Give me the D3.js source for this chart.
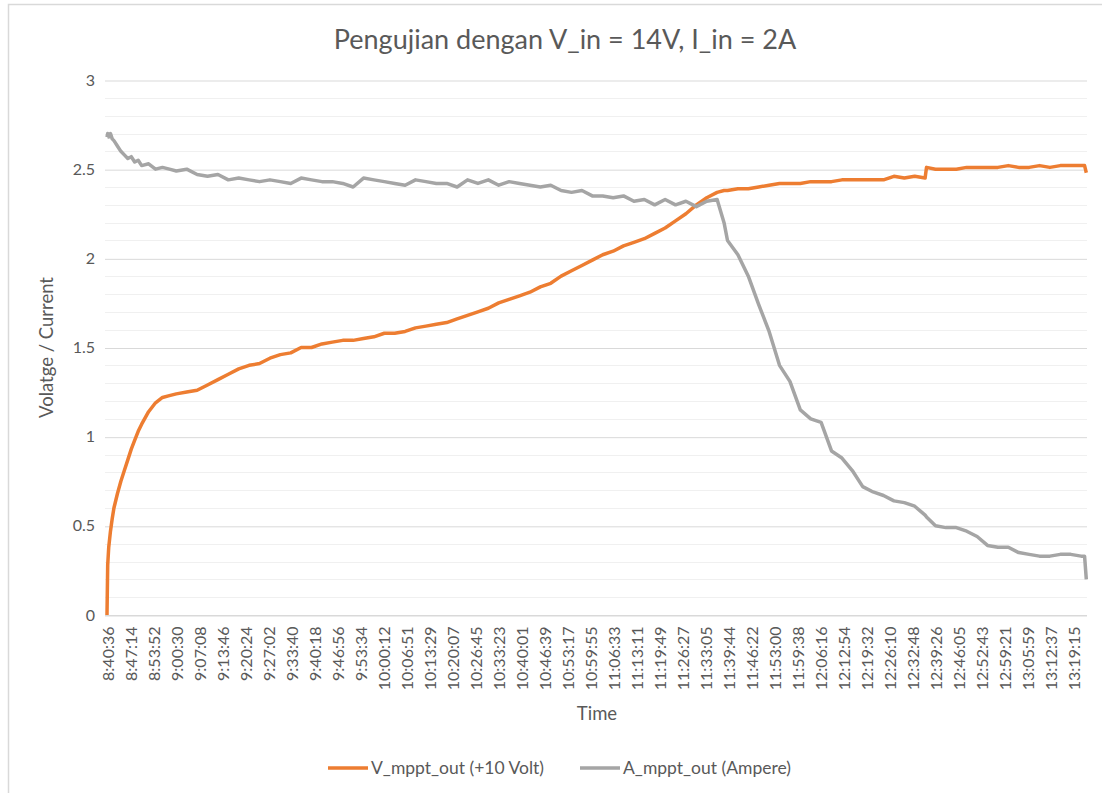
<!DOCTYPE html>
<html>
<head>
<meta charset="utf-8">
<script src="https://cdn.jsdelivr.net/npm/d3@7"></script>
<style>
  body { margin: 0; background: #fff; }
  svg { font-family: Lato, "Open Sans", sans-serif; }
</style>
</head>
<body>
<svg id="chart"></svg>
<script>
var W = 1102, H = 793;
var margin = {top: 80, right: 15, bottom: 178, left: 107};

// x labels on the category axis
var timeLabels = ["8:40:36","8:47:14","8:53:52","9:00:30","9:07:08","9:13:46","9:20:24","9:27:02",
  "9:33:40","9:40:18","9:46:56","9:53:34","10:00:12","10:06:51","10:13:29","10:20:07","10:26:45",
  "10:33:23","10:40:01","10:46:39","10:53:17","10:59:55","11:06:33","11:13:11","11:19:49","11:26:27",
  "11:33:05","11:39:44","11:46:22","11:53:00","11:59:38","12:06:16","12:12:54","12:19:32","12:26:10",
  "12:32:48","12:39:26","12:46:05","12:52:43","12:59:21","13:05:59","13:12:37","13:19:15"];

var yTicks = [0, 0.5, 1, 1.5, 2, 2.5, 3];

// minutes after 8:40:36
var minutes = [0,0.2,0.5,1,1.5,2,3,4,5,6,7,8,9,10,12,14,16,18,20,
  23,26,29,32,35,38,41,44,47,50,53,56,59,62,65,68,71,74,77,80,83,86,89,92,95,98,
  101,104,107,110,113,116,119,122,125,128,131,134,137,140,143,146,149,152,155,158,
  161,164,167,170,173,176,178,179,182,185,188,191,194,197,200,203,206,209,212,215,218,
  221,224,227,230,233,236,236.4,239,242,245,248,251,254,257,260,263,266,269,272,275,278,
  281,282,282.5];

// V_mppt_out (+10 Volt)
var vOut = [0,0.28,0.38,0.47,0.54,0.60,0.68,0.75,0.81,0.87,0.93,0.98,1.03,1.07,1.14,1.19,1.22,1.23,1.24,
  1.25,1.26,1.29,1.32,1.35,1.38,1.40,1.41,1.44,1.46,1.47,1.50,1.50,1.52,1.53,1.54,1.54,1.55,1.56,1.58,1.58,1.59,1.61,1.62,1.63,1.64,
  1.66,1.68,1.70,1.72,1.75,1.77,1.79,1.81,1.84,1.86,1.90,1.93,1.96,1.99,2.02,2.04,2.07,2.09,2.11,2.14,
  2.17,2.21,2.25,2.30,2.34,2.37,2.38,2.38,2.39,2.39,2.40,2.41,2.42,2.42,2.42,2.43,2.43,2.43,2.44,2.44,2.44,
  2.44,2.44,2.46,2.45,2.46,2.45,2.51,2.50,2.50,2.50,2.51,2.51,2.51,2.51,2.52,2.51,2.51,2.52,2.51,2.52,2.52,
  2.52,2.52,2.48];

// A_mppt_out (Ampere)
var aOut = [2.68,2.70,2.68,2.70,2.67,2.66,2.63,2.60,2.58,2.56,2.57,2.54,2.55,2.52,2.53,2.50,2.51,2.50,2.49,
  2.50,2.47,2.46,2.47,2.44,2.45,2.44,2.43,2.44,2.43,2.42,2.45,2.44,2.43,2.43,2.42,2.40,2.45,2.44,2.43,2.42,2.41,2.44,2.43,2.42,2.42,
  2.40,2.44,2.42,2.44,2.41,2.43,2.42,2.41,2.40,2.41,2.38,2.37,2.38,2.35,2.35,2.34,2.35,2.32,2.33,2.30,
  2.33,2.30,2.32,2.29,2.32,2.33,2.20,2.10,2.02,1.90,1.74,1.59,1.40,1.31,1.15,1.10,1.08,0.92,0.88,0.81,0.72,
  0.69,0.67,0.64,0.63,0.61,0.56,0.55,0.50,0.49,0.49,0.47,0.44,0.39,0.38,0.38,0.35,0.34,0.33,0.33,0.34,0.34,
  0.33,0.33,0.20];

var series = [
  {name: "V_mppt_out (+10 Volt)", color: "#ED7D31", values: vOut},
  {name: "A_mppt_out (Ampere)", color: "#A5A5A5", values: aOut}
];

function toSec(s) {
  var p = s.split(":").map(Number);
  return p[0] * 3600 + p[1] * 60 + p[2];
}
var t0 = toSec(timeLabels[0]);

var svg = d3.select("#chart").attr("width", W).attr("height", H);

// chart border
svg.append("rect")
  .attr("x", 8.5).attr("y", 4.5)
  .attr("width", W + 20).attr("height", H + 20)
  .attr("fill", "none").attr("stroke", "#d9d9d9").attr("stroke-width", 1.5);

var xScale = d3.scaleLinear().domain([0, 282.7]).range([margin.left, W - margin.right]);
var yScale = d3.scaleLinear().domain([0, 3]).range([H - margin.bottom, margin.top]);

// minor gridlines
svg.append("g")
  .selectAll("line")
  .data(d3.range(0, 31).map(function(i) { return i / 10; }).filter(function(v) { return Math.round(v * 10) % 5 !== 0; }))
  .enter().append("line")
  .attr("x1", margin.left - 2).attr("x2", W - margin.right)
  .attr("y1", function(d) { return Math.round(yScale(d)) + 0.5; })
  .attr("y2", function(d) { return Math.round(yScale(d)) + 0.5; })
  .attr("stroke", "#f0f0f0");

// major gridlines + y labels
var yAxis = svg.append("g")
  .attr("transform", `translate(${margin.left - 2}, 0)`)
  .call(d3.axisLeft(yScale).tickValues(yTicks).tickSize(-(W - margin.right - margin.left + 2)).tickPadding(10).tickFormat(d3.format("")));
yAxis.select(".domain").remove();
yAxis.selectAll(".tick line").attr("stroke", "#d9d9d9")
  .attr("transform", "translate(0,0.5)");
yAxis.selectAll(".tick text").attr("fill", "#595959").style("font-size", "16px").style("font-family", "Lato");

// x axis
var xAxis = svg.append("g")
  .attr("transform", `translate(0, ${Math.round(yScale(0)) + 0.5})`)
  .call(d3.axisBottom(xScale)
    .tickValues(timeLabels.map(function(s) { return (toSec(s) - t0) / 60; }))
    .tickFormat(function(d, i) { return timeLabels[i]; })
    .tickSize(0));
xAxis.select(".domain").attr("stroke", "#d9d9d9").attr("d", `M${margin.left - 2},0H${W - margin.right}`);
xAxis.selectAll(".tick text")
  .attr("fill", "#595959").style("font-size", "16px").style("font-family", "Lato")
  .attr("text-anchor", "end")
  .attr("transform", "rotate(-90)")
  .attr("x", -11).attr("y", 1).attr("dy", "0.35em");

var line = d3.line()
  .x(function(d, i) { return xScale(minutes[i]); })
  .y(function(d) { return yScale(d); });

series.forEach(function(s) {
  svg.append("path")
    .datum(s.values)
    .attr("d", line)
    .attr("fill", "none")
    .attr("stroke", s.color)
    .attr("stroke-width", 3.5)
    .attr("stroke-linejoin", "round");
});

// title
svg.append("text")
  .attr("x", 565).attr("y", 49)
  .attr("text-anchor", "middle")
  .attr("fill", "#595959").style("font-size", "27px")
  .text("Pengujian dengan V_in = 14V, I_in = 2A");

// axis titles
svg.append("text")
  .attr("x", 597).attr("y", 720)
  .attr("text-anchor", "middle")
  .attr("fill", "#595959").style("font-size", "18.5px")
  .text("Time");

svg.append("text")
  .attr("transform", `translate(53, ${(yScale(0) + yScale(3)) / 2}) rotate(-90)`)
  .attr("text-anchor", "middle")
  .attr("fill", "#595959").style("font-size", "18.5px")
  .text("Volatge / Current");

// legend
var legendX = [328, 580];
var legend = svg.append("g").selectAll("g")
  .data(series)
  .enter().append("g")
  .attr("transform", function(d, i) { return `translate(${legendX[i]}, 768)`; });
legend.append("line")
  .attr("x1", 0).attr("x2", 40)
  .attr("stroke", function(d) { return d.color; })
  .attr("stroke-width", 3.5);
legend.append("text")
  .attr("x", 43).attr("dy", "0.35em")
  .attr("fill", "#595959").style("font-size", "17.5px")
  .text(function(d) { return d.name; });
</script>
</body>
</html>
